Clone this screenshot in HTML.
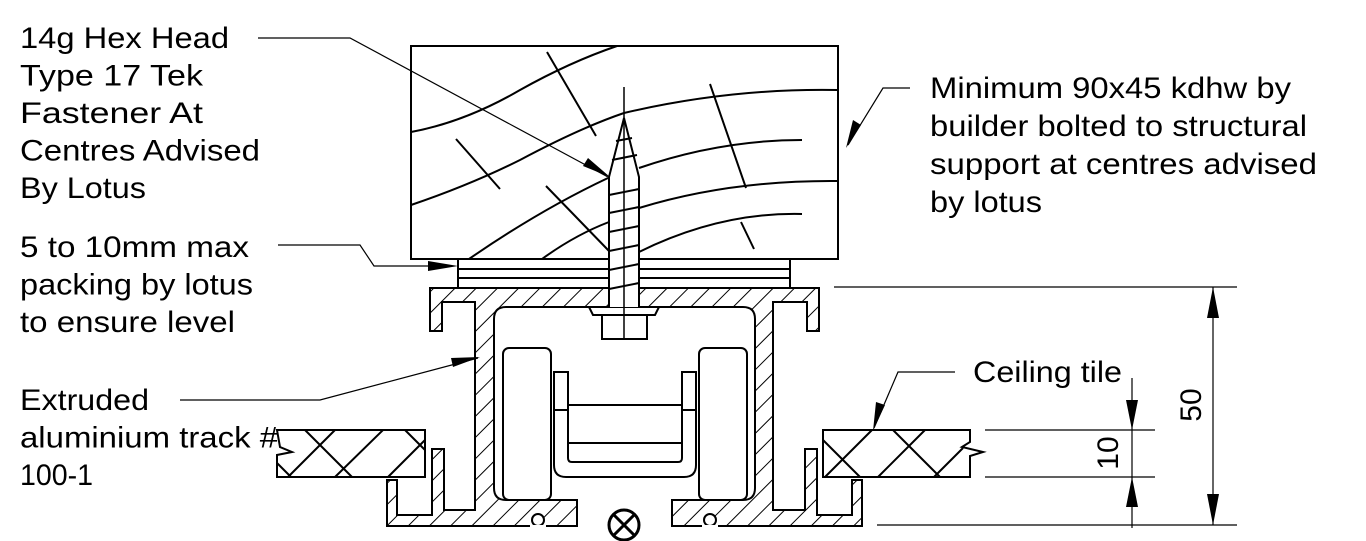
<!DOCTYPE html>
<html><head><meta charset="utf-8"><style>
html,body{margin:0;padding:0;background:#fff;}
svg{display:block;}
text{font-family:"Liberation Sans",sans-serif;font-size:30px;fill:#000;}
</style></head><body>
<svg width="1366" height="541" viewBox="0 0 1366 541" xmlns="http://www.w3.org/2000/svg">
<defs>
<pattern id="h" patternUnits="userSpaceOnUse" width="15" height="15" patternTransform="rotate(45)">
<rect width="15" height="15" fill="#fff"/><line x1="0" y1="0" x2="0" y2="15" stroke="#000" stroke-width="2"/>
</pattern>
</defs>
<g fill="none" stroke="#000" stroke-width="2">
<rect x="411" y="46" width="427" height="213" fill="#fff"/>
<path d="M411,132 Q465,122 520,90 Q570,62 617,46"/>
<path d="M411,205 Q470,185 520,160 Q580,128 624,113 Q730,88 838,90"/>
<path d="M469,259 Q540,210 608,178"/>
<path d="M639,168 Q720,140 802,140"/>
<path d="M542,259 Q575,235 609,222"/>
<path d="M639,208 Q730,180 838,181"/>
<path d="M639,252 Q720,212 802,214"/>
<path d="M547,52 L596,136 M456,139 L500,189 M546,186 L609,251 M710,84 L746,188 M741,222 L754,249"/>
<rect x="458" y="259" width="332" height="29" fill="#fff"/>
<path d="M458,269 H790 M458,278 H790"/>
<path fill="url(#h)" d="M430,288 H819 V331 H807 V302 H773 V510 H805 V449 H817 V515 H852 V480 H862 V526 H672 V500 H743 Q755,500 755,488 V319 Q755,307 743,307 H506 Q494,307 494,319 V488 Q494,500 506,500 H577 V526 H387 V480 H397 V515 H432 V449 H444 V510 H475 V302 H442 V331 H430 Z"/>
<circle cx="538" cy="520" r="6" fill="#fff"/>
<circle cx="710" cy="520" r="6" fill="#fff"/>
<rect x="530" y="525" width="16" height="4" fill="#fff" stroke="none"/>
<rect x="702" y="525" width="16" height="4" fill="#fff" stroke="none"/>
<rect x="503" y="348" width="48" height="152" rx="6" fill="#fff"/>
<rect x="699" y="348" width="48" height="152" rx="6" fill="#fff"/>
<path d="M554,372 H568 V458 Q568,462 572,462 H678 Q682,462 682,458 V372 H696 V465 Q696,477 684,477 H566 Q554,477 554,465 Z" fill="#fff"/>
<path d="M568,405 H682 M568,443 H682 M554,410 H568 M682,410 H696"/>
<path d="M589,307 H659 L655,315 H593 Z" fill="#fff"/>
<rect x="602" y="315" width="45" height="24" fill="#fff"/>
<path d="M609,307 V177 L624,118 L639,177 V307" fill="#fff"/>
<path d="M609,195 L639,189 M609,213 L639,207 M609,232 L639,226 M609,251 L639,245 M609,270 L639,264 M609,289 L639,283 M612,160 L637,155 M616,141 L632,138"/>
<path d="M624,87 V339" stroke-width="1.5"/>
<path d="M277,430 H425 V477 H277 V455 L292,452 L280,447 Z" fill="#fff"/>
<path d="M288,477 L335,430 M352,477 L305,430 M335,477 L383,430 M388,477 L425,440 M405,430 L425,450 M277,463 L291,477"/>
<path d="M823,430 H970 V442 L962,447 L983,452 L970,456 V477 H823 Z" fill="#fff"/>
<path d="M823,440 L860,477 M872,430 L825,477 M878,477 L925,430 M893,430 L940,477 M934,477 L963,448"/>
<circle cx="624" cy="525" r="15" stroke-width="3"/>
<path d="M613,514 L635,536 M635,514 L613,536" stroke-width="3"/>
</g>
<g stroke="#000" stroke-width="1.2" fill="none">
<path d="M834,287 H1237 M877,525 H1237 M1213,287 V525"/>
<path d="M985,430 H1155 M985,477 H1155 M1132,378 V528"/>
<path d="M258,38 H350 L608,177"/>
<path d="M278,245 H360 L374,266 H450"/>
<path d="M180,400 H320 L478,358"/>
<path d="M910,88 H883 L848,145"/>
<path d="M955,372 H898 L874,428"/>
</g>
<g fill="#000">
<path d="M1213,287 L1207,318 L1219,318 Z"/>
<path d="M1213,525 L1207,494 L1219,494 Z"/>
<path d="M1132,430 L1126,400 L1138,400 Z"/>
<path d="M1132,477 L1126,507 L1138,507 Z"/>
<path d="M610,177 L583,166 L588,158 Z"/>
<path d="M458,266 L428,261 L428,271 Z"/>
<path d="M480,357 L451,358 L453,367 Z"/>
<path d="M846,148 L853,120 L861,125 Z"/>
<path d="M873,431 L876,402 L885,405 Z"/>
</g>
<g>
<text x="20" y="48" textLength="209" lengthAdjust="spacingAndGlyphs">14g Hex Head</text>
<text x="20" y="85.5" textLength="183" lengthAdjust="spacingAndGlyphs">Type 17 Tek</text>
<text x="20" y="123" textLength="183" lengthAdjust="spacingAndGlyphs">Fastener At</text>
<text x="20" y="160.5" textLength="240" lengthAdjust="spacingAndGlyphs">Centres Advised</text>
<text x="20" y="198" textLength="126" lengthAdjust="spacingAndGlyphs">By Lotus</text>
<text x="20" y="257" textLength="229" lengthAdjust="spacingAndGlyphs">5 to 10mm max</text>
<text x="20" y="294.5" textLength="233" lengthAdjust="spacingAndGlyphs">packing by lotus</text>
<text x="20" y="332" textLength="215" lengthAdjust="spacingAndGlyphs">to ensure level</text>
<text x="20" y="410" textLength="129" lengthAdjust="spacingAndGlyphs">Extruded</text>
<text x="20" y="447.5" textLength="258" lengthAdjust="spacingAndGlyphs">aluminium track #</text>
<text x="20" y="485" textLength="73" lengthAdjust="spacingAndGlyphs">100-1</text>
<text x="930" y="98" textLength="361" lengthAdjust="spacingAndGlyphs">Minimum 90x45 kdhw by</text>
<text x="930" y="136" textLength="377" lengthAdjust="spacingAndGlyphs">builder bolted to structural</text>
<text x="930" y="174" textLength="387" lengthAdjust="spacingAndGlyphs">support at centres advised</text>
<text x="930" y="212" textLength="112" lengthAdjust="spacingAndGlyphs">by lotus</text>
<text x="973" y="382" textLength="149" lengthAdjust="spacingAndGlyphs">Ceiling tile</text>
<text transform="translate(1201,405) rotate(-90)" text-anchor="middle">50</text>
<text transform="translate(1118,453) rotate(-90)" text-anchor="middle">10</text>
</g>
</svg>
</body></html>
